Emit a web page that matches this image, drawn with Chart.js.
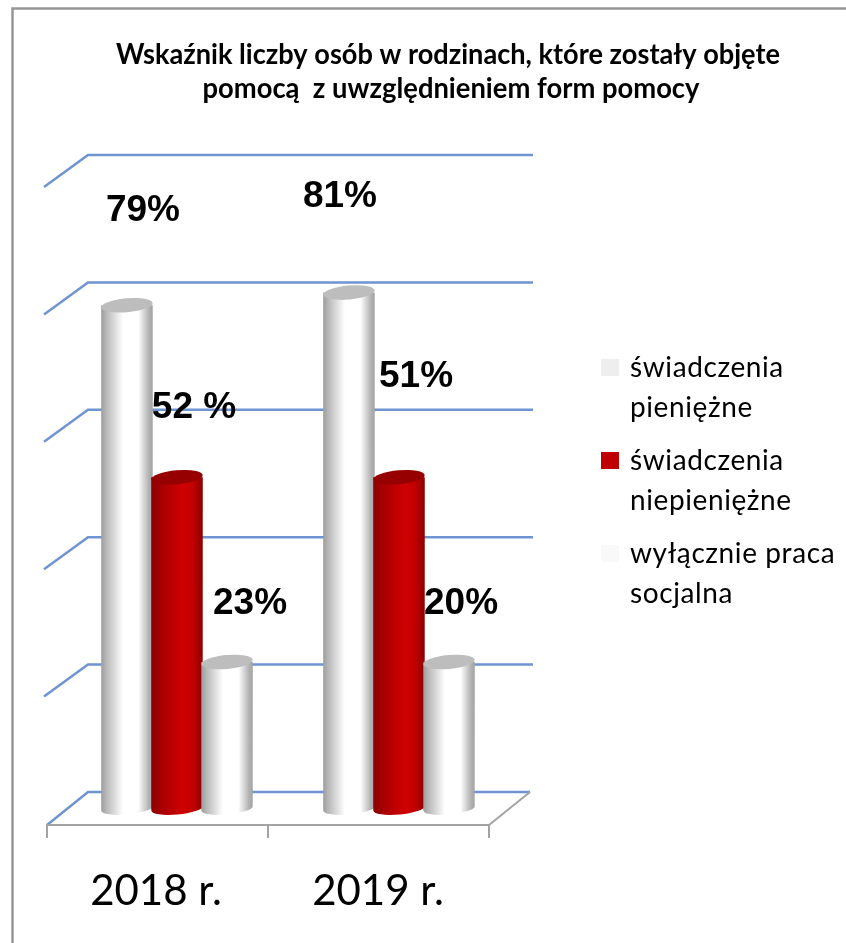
<!DOCTYPE html>
<html lang="pl">
<head>
<meta charset="utf-8">
<title>Wskaźnik liczby osób</title>
<script src="https://cdn.jsdelivr.net/npm/chart.js@4"></script>
<style>
  html, body { margin: 0; background: #fff; }
  #wrap { width: 846px; height: 943px; }
</style>
</head>
<body>
<div id="wrap"><canvas id="chart" width="846" height="943"></canvas></div>
<script>
const titleLines = ["Wskaźnik liczby osób w rodzinach, które zostały objęte", "pomocą  z uwzględnieniem form pomocy"];
const years = ["2018 r.", "2019 r."];
const seriesNames = ["świadczenia pieniężne", "świadczenia niepieniężne", "wyłącznie praca socjalna"];
const legendLines = [["świadczenia", "pieniężne"], ["świadczenia", "niepieniężne"], ["wyłącznie praca", "socjalna"]];

// bar heights as drawn in the picture (the printed labels differ a little for 2019)
const pieniezne = [79, 81];
const niepieniezne = [52, 52];
const pracaSocjalna = [23, 23];

const labelsPieniezne = ["79%", "81%"];
const labelsNiepieniezne = ["52 %", "51%"];
const labelsPraca = ["23%", "20%"];
const gridTicks = [0, 20, 40, 60, 80, 100];

const barLabels = [labelsPieniezne, labelsNiepieniezne, labelsPraca];
// hand placed labels, offset from the top of each bar
const labelShift = [
    [[16, -94], [-9, -96]],
    [[17, -69], [17, -100]],
    [[23, -58], [12, -58]]
];

const white = [[0, "#9c9c9c"], [0.1, "#b8b8b8"], [0.42, "#ffffff"], [0.72, "#ffffff"], [0.92, "#b4b4b4"], [1, "#a2a2a2"]];
const red = [[0, "#8c0000"], [0.2, "#a80000"], [0.6, "#cf0000"], [0.8, "#c40000"], [1, "#8c0000"]];
const looks = [
    { stops: white, top: "#bdbdbd", swatch: "#eeeeee" },
    { stops: red, top: "#960000", swatch: "#c00000" },
    { stops: white, top: "#bdbdbd", swatch: "#f9f9f9" }
];

const blue = "#6f94d2";
const gray = "#a3a3a3";

// back wall grid and floor
const wallPlugin = {
    id: "wall",
    beforeDatasetsDraw(chart) {
        const { ctx, scales } = chart;
        const y = scales.y;
        ctx.save();
        const backY = y.getPixelForValue(0) - 16.5;
        ctx.strokeStyle = blue;
        ctx.lineWidth = 2.5;
        gridTicks.forEach(t => {
            const py = y.getPixelForValue(t) - 16.5;
            ctx.beginPath();
            ctx.moveTo(t === 0 ? 47 : 44, t === 0 ? py + 33 : py + 32);
            ctx.lineTo(88, py);
            ctx.lineTo(t === 0 ? 530 : 533, py);
            ctx.stroke();
        });

        ctx.strokeStyle = gray;
        ctx.lineWidth = 2;
        ctx.beginPath();
        ctx.moveTo(530, backY);
        ctx.lineTo(489, backY + 33);
        ctx.lineTo(46, backY + 33);
        [47, 268, 489].forEach(x => {
            ctx.moveTo(x, backY + 33);
            ctx.lineTo(x, backY + 46);
        });
        ctx.stroke();
        ctx.restore();
    }
};

function cylinder(ctx, bar, look) {
    const w = bar.width + 1.5;
    const left = bar.x - w / 2;
    const g = ctx.createLinearGradient(left, 0, left + w, 0);
    look.stops.forEach(s => g.addColorStop(s[0], s[1]));
    const tilt = -0.09;
    ctx.fillStyle = g;
    ctx.beginPath();
    ctx.moveTo(left, bar.y);
    ctx.lineTo(left, bar.base);
    ctx.ellipse(bar.x, bar.base, w / 2, 6, tilt, Math.PI, 0, true);
    ctx.lineTo(left + w, bar.y);
    ctx.closePath();
    ctx.fill();
    ctx.fillStyle = look.top;
    ctx.beginPath();
    ctx.ellipse(bar.x, bar.y, w / 2, 7, tilt, 0, Math.PI * 2);
    ctx.fill();
}

// round bars on top of the flat ones, then their labels
const cylinderPlugin = {
    id: "cylinders",
    afterDatasetsDraw(chart) {
        const { ctx } = chart;
        ctx.save();
        chart.data.datasets.forEach((ds, i) => {
            chart.getDatasetMeta(i).data.forEach(bar => cylinder(ctx, bar, looks[i]));
        });
        ctx.font = "bold 37px 'Liberation Sans'";
        ctx.fillStyle = "#000";
        ctx.textAlign = "center";
        ctx.textBaseline = "middle";
        chart.data.datasets.forEach((ds, i) => {
            chart.getDatasetMeta(i).data.forEach((bar, j) => {
                ctx.fillText(barLabels[i][j], bar.x + labelShift[i][j][0], bar.y + labelShift[i][j][1]);
            });
        });
        ctx.restore();
    }
};

// title sits off centre and the legend wraps, so both are drawn here
const textPlugin = {
    id: "sideText",
    afterDraw(chart) {
        const { ctx } = chart;
        const rows = [377, 470, 563];
        ctx.save();
        ctx.strokeStyle = "#969696";
        ctx.lineWidth = 2.5;
        ctx.beginPath();
        ctx.moveTo(12.5, 943);
        ctx.lineTo(12.5, 8.5);
        ctx.lineTo(846, 8.5);
        ctx.stroke();

        ctx.fillStyle = "#000";
        ctx.font = "bold 28px Lato";
        ctx.textAlign = "center";
        ctx.fillText(titleLines[0], 448, 64, 664);
        ctx.fillText(titleLines[1], 451, 98, 497);

        ctx.textAlign = "left";
        ctx.font = "28px Lato";
        ctx.letterSpacing = "0.6px";
        legendLines.forEach((lines, i) => {
            ctx.fillStyle = looks[i].swatch;
            ctx.fillRect(601, rows[i] - 18, 18, 17);
            ctx.fillStyle = "#000";
            lines.forEach((line, k) => ctx.fillText(line, 630, rows[i] + k * 40));
        });
        ctx.restore();
    }
};

new Chart(document.querySelector("#chart"), {
    type: "bar",
    data: {
        labels: years,
        datasets: [
            { label: seriesNames[0], data: pieniezne, backgroundColor: looks[0].swatch },
            { label: seriesNames[1], data: niepieniezne, backgroundColor: looks[1].swatch },
            { label: seriesNames[2], data: pracaSocjalna, backgroundColor: looks[2].swatch }
        ]
    },
    options: {
        responsive: false,
        animation: false,
        layout: { padding: { left: 66, right: 336, top: 171.5, bottom: 0 } },
        datasets: { bar: { categoryPercentage: 0.676, barPercentage: 1 } },
        plugins: {
            legend: { display: false },
            tooltip: { enabled: false }
        },
        scales: {
            x: {
                grid: { display: false },
                border: { display: false },
                ticks: { color: "#000", font: { family: "Lato", size: 42 }, labelOffset: -21, padding: 50, maxRotation: 0 },
                afterFit(scale) { scale.height = 134.5; }
            },
            y: {
                min: 0,
                max: 100,
                grid: { display: false },
                border: { display: false },
                ticks: { display: false, stepSize: 20 },
                afterFit(scale) { scale.width = 0; }
            }
        }
    },
    plugins: [wallPlugin, cylinderPlugin, textPlugin]
});
</script>
</body>
</html>
